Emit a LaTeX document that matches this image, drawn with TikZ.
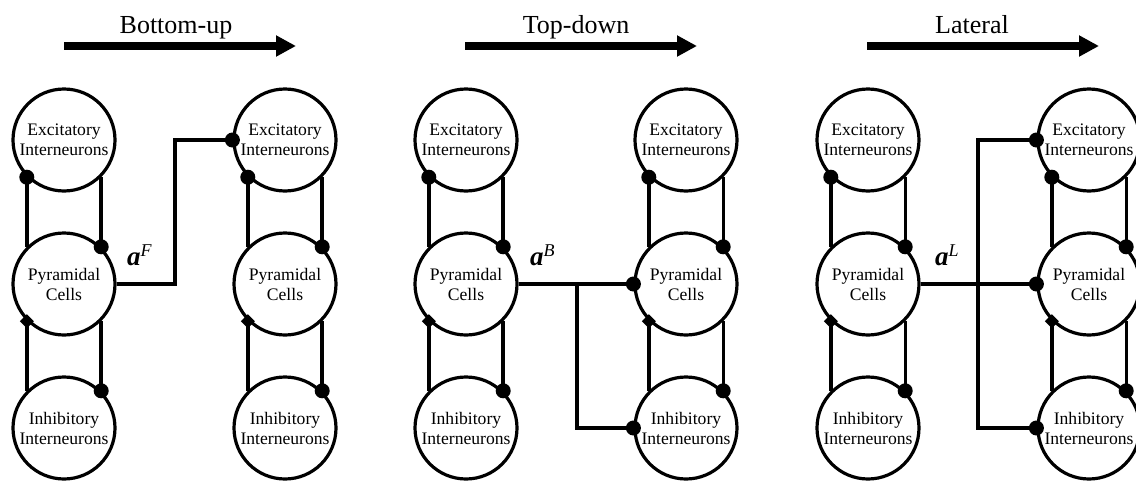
\documentclass[tikz,border=0pt]{standalone}
\usepackage{fontspec}
\setmainfont{Liberation Serif}
\usetikzlibrary{arrows.meta}
\begin{document}
\begin{tikzpicture}[x=1pt,y=-1pt,
  cell/.style={circle,draw,line width=3.2pt,minimum size=102pt,inner sep=0pt,align=center,font=\fontsize{17.6}{20}\selectfont},
  wire/.style={line width=3.4pt},
  bigarrow/.style={line width=8pt,-{Triangle[length=20pt,width=20pt]}},
  hdr/.style={anchor=base,inner sep=0pt,font=\fontsize{26}{28}\selectfont},
  conlabel/.style={anchor=base west,inner sep=0pt}
]
\useasboundingbox (0,0) rectangle (1136,482);

% headers
\node[hdr] (t1) at (176,33) {Bottom-up};
\node[hdr] (t2) at (576,33) {Top-down};
\node[hdr] (t3) at (972,33) {Lateral};
\coordinate (h1s) at (64,46);  \coordinate (h1e) at (296,46);
\coordinate (h2s) at (465,46); \coordinate (h2e) at (697,46);
\coordinate (h3s) at (867,46); \coordinate (h3e) at (1099,46);
\draw[bigarrow] (h1s) -- (h1e);
\draw[bigarrow] (h2s) -- (h2e);
\draw[bigarrow] (h3s) -- (h3e);

% columns
\foreach \i/\x in {1/64,2/285,3/466,4/686,5/868,6/1089}{
  \node[cell] (E\i) at (\x,140) {Excitatory\\Interneurons};
  \node[cell] (P\i) at (\x,284) {Pyramidal\\Cells};
  \node[cell] (I\i) at (\x,428) {Inhibitory\\Interneurons};
  \draw[wire] (P\i.135) -- (E\i.225);
  \fill (E\i.225) circle (7.5pt);
  \draw[wire] (P\i.45) -- (E\i.315);
  \fill (P\i.45) circle (7.5pt);
  \draw[wire] (P\i.225) -- (I\i.135);
  \fill (P\i.225) +(-7pt,0pt) -- +(0pt,7pt) -- +(7pt,0pt) -- +(0pt,-7pt) -- cycle;
  \draw[wire] (P\i.315) -- (I\i.45);
  \fill (I\i.45) circle (7.5pt);
}

% bottom-up
\coordinate (k1) at (175,284);
\draw[wire] (P1.east) -- (k1) |- (E2.west);
\fill (E2.west) circle (7.5pt);
\node[conlabel] (lF) at (127,265) {\fontsize{27}{27}\selectfont\bfseries\itshape a\raisebox{9pt}{\fontsize{18}{18}\selectfont\mdseries\itshape F}};

% top-down
\coordinate (k2) at (577,284);
\draw[wire] (P3.east) -- (P4.west);
\draw[wire] (k2) |- (I4.west);
\fill (P4.west) circle (7.5pt);
\fill (I4.west) circle (7.5pt);
\node[conlabel] (lB) at (530,265) {\fontsize{27}{27}\selectfont\bfseries\itshape a\raisebox{9pt}{\fontsize{18}{18}\selectfont\mdseries\itshape B}};

% lateral
\coordinate (k3) at (978,284);
\draw[wire] (P5.east) -- (P6.west);
\draw[wire] (E6.west) -| (k3) |- (I6.west);
\fill (E6.west) circle (7.5pt);
\fill (P6.west) circle (7.5pt);
\fill (I6.west) circle (7.5pt);
\node[conlabel] (lL) at (935,265) {\fontsize{27}{27}\selectfont\bfseries\itshape a\raisebox{9pt}{\fontsize{18}{18}\selectfont\mdseries\itshape L}};
\end{tikzpicture}
\end{document}
